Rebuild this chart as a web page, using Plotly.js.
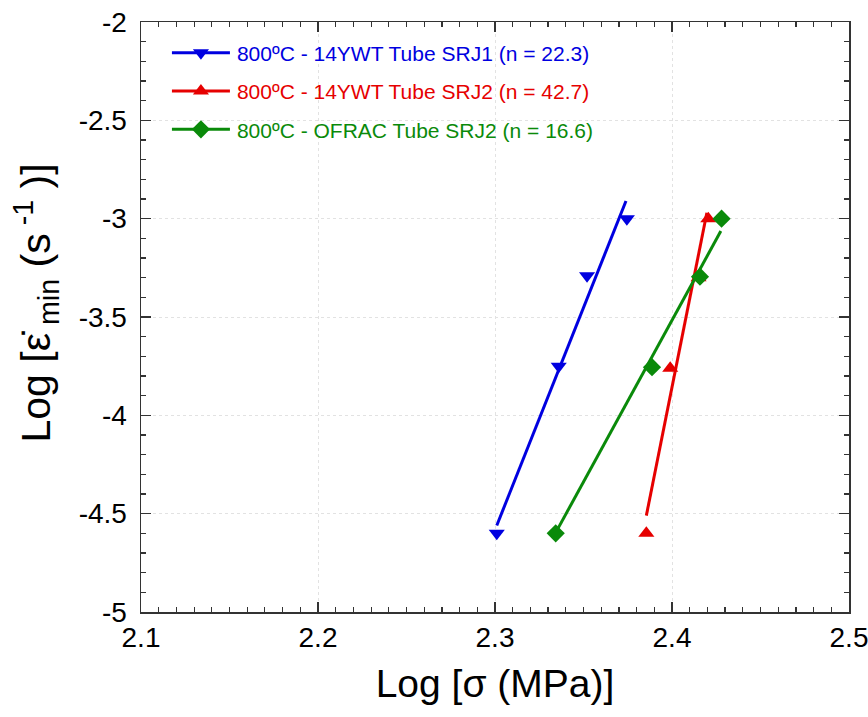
<!DOCTYPE html>
<html>
<head>
<meta charset="utf-8">
<script src="https://cdn.plot.ly/plotly-3.0.1.min.js"></script>
<style>html,body{margin:0;padding:0;background:#fff;}#chart{width:868px;height:717px;}</style>
</head>
<body>
<div id="chart"></div>
<script>
// Series: log stress (x) vs log minimum creep rate (y)
const seriesNames = [
  '800ºC - 14YWT Tube SRJ1 (n = 22.3)',
  '800ºC - 14YWT Tube SRJ2 (n = 42.7)',
  '800ºC - OFRAC Tube SRJ2 (n = 16.6)'
];
const srj1X = [2.301, 2.336, 2.352, 2.3745];
const srj1Y = [-4.6, -3.75, -3.29, -3.0];
const srj2X = [2.3855, 2.399, 2.415, 2.4205];
const srj2Y = [-4.6, -3.76, -3.30, -3.0];
const ofracX = [2.3343, 2.3887, 2.4158, 2.428];
const ofracY = [-4.6, -3.755, -3.295, -3.0];
// Fitted power-law lines (end points)
const srj1FitX = [2.301, 2.374];
const srj1FitY = [-4.56, -2.91];
const srj2FitX = [2.3855, 2.4197];
const srj2FitY = [-4.51, -2.97];
const ofracFitX = [2.335, 2.4276];
const ofracFitY = [-4.585, -3.063];
const xTickVals = [2.1, 2.2, 2.3, 2.4, 2.5];
const xTickText = ['2.1', '2.2', '2.3', '2.4', '2.5'];
const yTickVals = [-5, -4.5, -4, -3.5, -3, -2.5, -2];
const yTickText = ['-5', '-4.5', '-4', '-3.5', '-3', '-2.5', '-2'];
const xTitle = 'Log [σ (MPa)]';
const yTitle = 'Log [ε\u0307<sub> min</sub> (s<sup> -1</sup> )]';

const colors = ['#0000e0', '#e60000', '#0a8a0a'];
const symbols = ['triangle-down', 'triangle-up', 'diamond'];
const pts = [[srj1X, srj1Y], [srj2X, srj2Y], [ofracX, ofracY]];
const fits = [[srj1FitX, srj1FitY], [srj2FitX, srj2FitY], [ofracFitX, ofracFitY]];

const traces = [];
for (let i = 0; i < 3; i++) {
  traces.push({
    x: fits[i][0], y: fits[i][1], mode: 'lines', type: 'scatter',
    line: {color: colors[i], width: 3}, showlegend: false, hoverinfo: 'skip'
  });
  traces.push({
    x: pts[i][0], y: pts[i][1], mode: 'markers', type: 'scatter',
    marker: {color: colors[i], symbol: symbols[i], size: 14}, showlegend: false
  });
  traces.push({
    x: [null], y: [null], mode: 'lines+markers', type: 'scatter',
    line: {color: colors[i], width: 3},
    marker: {color: colors[i], symbol: symbols[i], size: 14},
    name: '<span style="color:' + colors[i] + '">' + seriesNames[i] + '</span>',
    legendgroup: 'g' + i
  });
}

const font = 'Liberation Sans, Arial, sans-serif';
const layout = {
  width: 868, height: 717,
  margin: {l: 140.5, r: 18.5, t: 22, b: 105},
  paper_bgcolor: '#fff', plot_bgcolor: '#fff',
  font: {family: font, color: '#000'},
  showlegend: true,
  legend: {
    x: 0.079, y: 0.982, xanchor: 'left', yanchor: 'top',
    bgcolor: 'rgba(0,0,0,0)', font: {size: 21, family: font},
    traceorder: 'grouped', tracegroupgap: 8
  },
  xaxis: {
    range: [2.1, 2.5], tickvals: xTickVals, ticktext: xTickText,
    ticks: 'inside', ticklen: 10, tickwidth: 1.5, tickcolor: '#333',
    showline: true, linecolor: '#333', linewidth: 1.5, mirror: 'ticks',
    showgrid: true, gridcolor: '#e2e2e2', griddash: '3px,3px', gridwidth: 1,
    zeroline: false, ticklabeloverflow: 'allow',
    minor: {dtick: 0.01, ticks: 'inside', ticklen: 5, tickcolor: '#333', tickwidth: 1.2, showgrid: false},
    tickfont: {size: 28, family: font},
    title: {text: xTitle, font: {size: 39, family: font}, standoff: 17}
  },
  yaxis: {
    range: [-5, -2], tickvals: yTickVals, ticktext: yTickText,
    ticks: 'inside', ticklen: 10, tickwidth: 1.5, tickcolor: '#333',
    showline: true, linecolor: '#333', linewidth: 1.5, mirror: 'ticks',
    showgrid: true, gridcolor: '#e2e2e2', griddash: '3px,3px', gridwidth: 1,
    zeroline: false, ticklabelstandoff: 7, ticklabeloverflow: 'allow',
    minor: {dtick: 0.1, ticks: 'inside', ticklen: 5, tickcolor: '#333', tickwidth: 1.2, showgrid: false},
    tickfont: {size: 28, family: font}
  },
  annotations: [{
    text: yTitle, xref: 'paper', yref: 'paper', x: -0.1488, y: 0.524,
    xanchor: 'center', yanchor: 'middle', textangle: -90, showarrow: false,
    font: {size: 41, family: font, color: '#000'}
  }]
};

Plotly.newPlot('chart', traces, layout, {staticPlot: true, displayModeBar: false}).then(function () {
  document.querySelectorAll('.legend .scrollbox').forEach(function (s) { s.removeAttribute('clip-path'); });
  document.querySelectorAll('.legend .traces').forEach(function (t) {
    t.querySelectorAll('.legendlines path').forEach(function (p) { p.setAttribute('d', 'M-25,0h58'); });
    t.querySelectorAll('.legendpoints path').forEach(function (p) { p.setAttribute('transform', 'translate(4,0)'); });
  });
});
</script>
</body>
</html>
